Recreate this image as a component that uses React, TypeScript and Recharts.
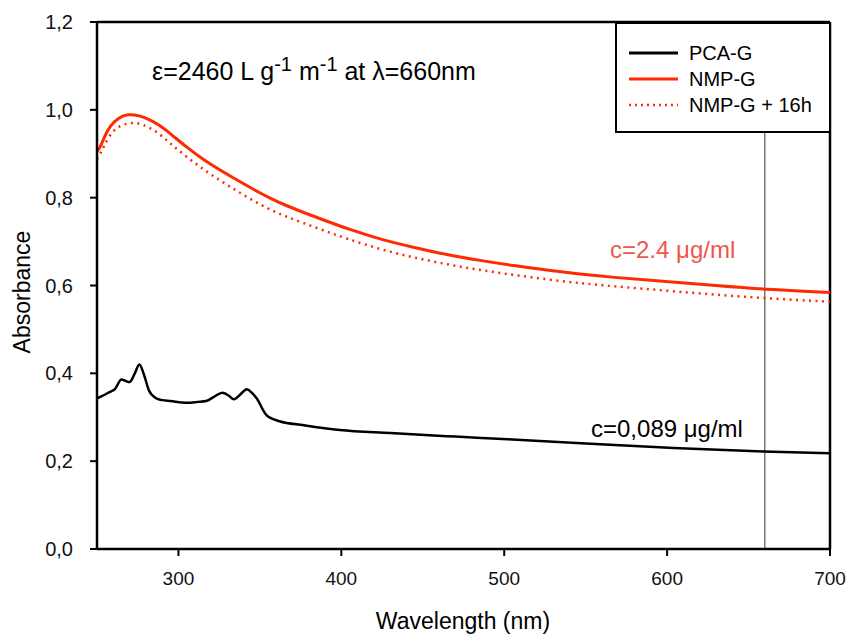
import React from 'react';
import { LineChart, Line, XAxis, YAxis, ReferenceLine, Legend, Customized } from 'recharts';

// PCA-G (black)
const pcaWavelength = [250, 253, 258, 261, 265, 268, 270, 273, 276, 279, 282, 286, 290, 295, 305, 312, 317, 322, 327, 331, 334, 338, 342, 345, 348, 354, 362, 377, 399, 430, 470, 502, 550, 604, 659, 700];
const pcaAbsorbance = [0.343, 0.348, 0.358, 0.364, 0.386, 0.382, 0.380, 0.398, 0.420, 0.395, 0.360, 0.344, 0.339, 0.337, 0.333, 0.335, 0.337, 0.347, 0.356, 0.349, 0.341, 0.352, 0.364, 0.356, 0.343, 0.305, 0.291, 0.282, 0.271, 0.264, 0.256, 0.250, 0.240, 0.230, 0.222, 0.218];

// NMP-G (red solid)
const nmpWavelength = [250, 252, 255, 258, 263, 269, 276, 282, 288, 295, 305, 315, 326, 336, 346, 356, 366, 377, 390, 403, 424, 444, 465, 485, 506, 526, 547, 565, 600, 630, 660, 700];
const nmpAbsorbance = [0.905, 0.915, 0.942, 0.963, 0.982, 0.991, 0.987, 0.978, 0.966, 0.946, 0.915, 0.887, 0.862, 0.840, 0.819, 0.799, 0.782, 0.766, 0.748, 0.730, 0.705, 0.687, 0.670, 0.657, 0.645, 0.635, 0.626, 0.619, 0.609, 0.600, 0.591, 0.584];

// NMP-G + 16h (red dotted)
const nmp16Wavelength = [250, 252, 254, 258, 263, 271, 278, 287, 295, 305, 315, 326, 336, 346, 356, 366, 377, 390, 403, 424, 444, 465, 485, 506, 526, 547, 565, 600, 630, 660, 700];
const nmp16Absorbance = [0.888, 0.900, 0.916, 0.944, 0.963, 0.972, 0.968, 0.950, 0.923, 0.893, 0.865, 0.838, 0.815, 0.793, 0.773, 0.757, 0.742, 0.724, 0.707, 0.682, 0.664, 0.648, 0.635, 0.624, 0.614, 0.605, 0.599, 0.588, 0.579, 0.571, 0.563];

const xTicks = [300, 400, 500, 600, 700];
const yTicks = [0, 0.2, 0.4, 0.6, 0.8, 1.0, 1.2];

const toPoints = (xs: number[], ys: number[]) => xs.map((x, i) => ({ x, y: ys[i] }));

const RED = '#ff2a00';
const FONT = '"Liberation Sans", Arial, sans-serif';

const legendItems = [
  { name: 'PCA-G', color: '#000', dash: undefined },
  { name: 'NMP-G', color: RED, dash: undefined },
  { name: 'NMP-G + 16h', color: RED, dash: '2 4' },
];

const LegendBox = () => (
  <div style={{ border: '2px solid #000', background: '#fff', boxSizing: 'border-box', height: 111, paddingTop: 16, fontFamily: FONT }}>
    {legendItems.map((it) => (
      <div key={it.name} style={{ display: 'flex', alignItems: 'center', height: 26 }}>
        <svg width={72} height={10}>
          <line x1={12} x2={61} y1={5} y2={5} stroke={it.color} strokeWidth={it.dash ? 2.5 : 3} strokeDasharray={it.dash} />
        </svg>
        <span style={{ fontSize: 20, color: '#000' }}>{it.name}</span>
      </div>
    ))}
  </div>
);

const Annotations = () => (
  <g fontFamily={FONT}>
    <text x={152} y={80} fontSize={25} fill="#000">
      ε=2460 L g<tspan dy={-9} fontSize={20}>-1</tspan>
      <tspan dy={9}> m</tspan>
      <tspan dy={-9} fontSize={20}>-1</tspan>
      <tspan dy={9}> at λ=660nm</tspan>
    </text>
    <text x={610} y={258} fontSize={24} fill="#f0564a">c=2.4 μg/ml</text>
    <text x={591} y={437} fontSize={24} fill="#000">c=0,089 μg/ml</text>
    <text x={463} y={629} fontSize={23} textAnchor="middle" fill="#000">Wavelength (nm)</text>
    <text x={30} y={292} fontSize={23} textAnchor="middle" fill="#000" transform="rotate(-90 30 292)">Absorbance</text>
  </g>
);

export default function App() {
  return (
    <div style={{ position: 'absolute', left: 0, top: 0, background: '#fff' }}>
      <LineChart width={850} height={634} margin={{ top: 22, right: 20, left: 0, bottom: 0 }}>
        <XAxis
          dataKey="x"
          type="number"
          domain={[250, 700]}
          ticks={xTicks}
          allowDataOverflow
          height={85}
          tickSize={7}
          tickMargin={16}
          axisLine={{ stroke: '#000', strokeWidth: 2.5 }}
          tickLine={{ stroke: '#000', strokeWidth: 2 }}
          tick={{ fill: '#111', fontSize: 19, fontFamily: FONT }}
        />
        <YAxis
          type="number"
          domain={[0, 1.2]}
          ticks={yTicks}
          width={97}
          tickSize={7}
          tickMargin={17}
          tickFormatter={(v: number) => v.toFixed(1).replace('.', ',')}
          axisLine={{ stroke: '#000', strokeWidth: 2.5 }}
          tickLine={{ stroke: '#000', strokeWidth: 2 }}
          tick={{ fill: '#111', fontSize: 20, fontFamily: FONT }}
        />
        <ReferenceLine y={1.2} stroke="#000" strokeWidth={2.5} />
        <ReferenceLine x={700} stroke="#000" strokeWidth={2.5} />
        <ReferenceLine x={660} stroke="#333" strokeWidth={1} />
        <Line data={toPoints(pcaWavelength, pcaAbsorbance)} dataKey="y" name="PCA-G" type="monotone" stroke="#000" strokeWidth={2.5} dot={false} activeDot={false} isAnimationActive={false} />
        <Line data={toPoints(nmpWavelength, nmpAbsorbance)} dataKey="y" name="NMP-G" type="basis" stroke={RED} strokeWidth={3} dot={false} activeDot={false} isAnimationActive={false} />
        <Line data={toPoints(nmp16Wavelength, nmp16Absorbance)} dataKey="y" name="NMP-G + 16h" type="basis" stroke={RED} strokeWidth={2.5} strokeDasharray="2 4.5" dot={false} activeDot={false} isAnimationActive={false} />
        <Customized component={<Annotations />} />
        <Legend
          layout="vertical"
          align="center"
          verticalAlign="middle"
          wrapperStyle={{ left: 615, top: 22, width: 216, height: 111, bottom: 'auto', right: 'auto' }}
          content={() => <LegendBox />}
        />
      </LineChart>
    </div>
  );
}
